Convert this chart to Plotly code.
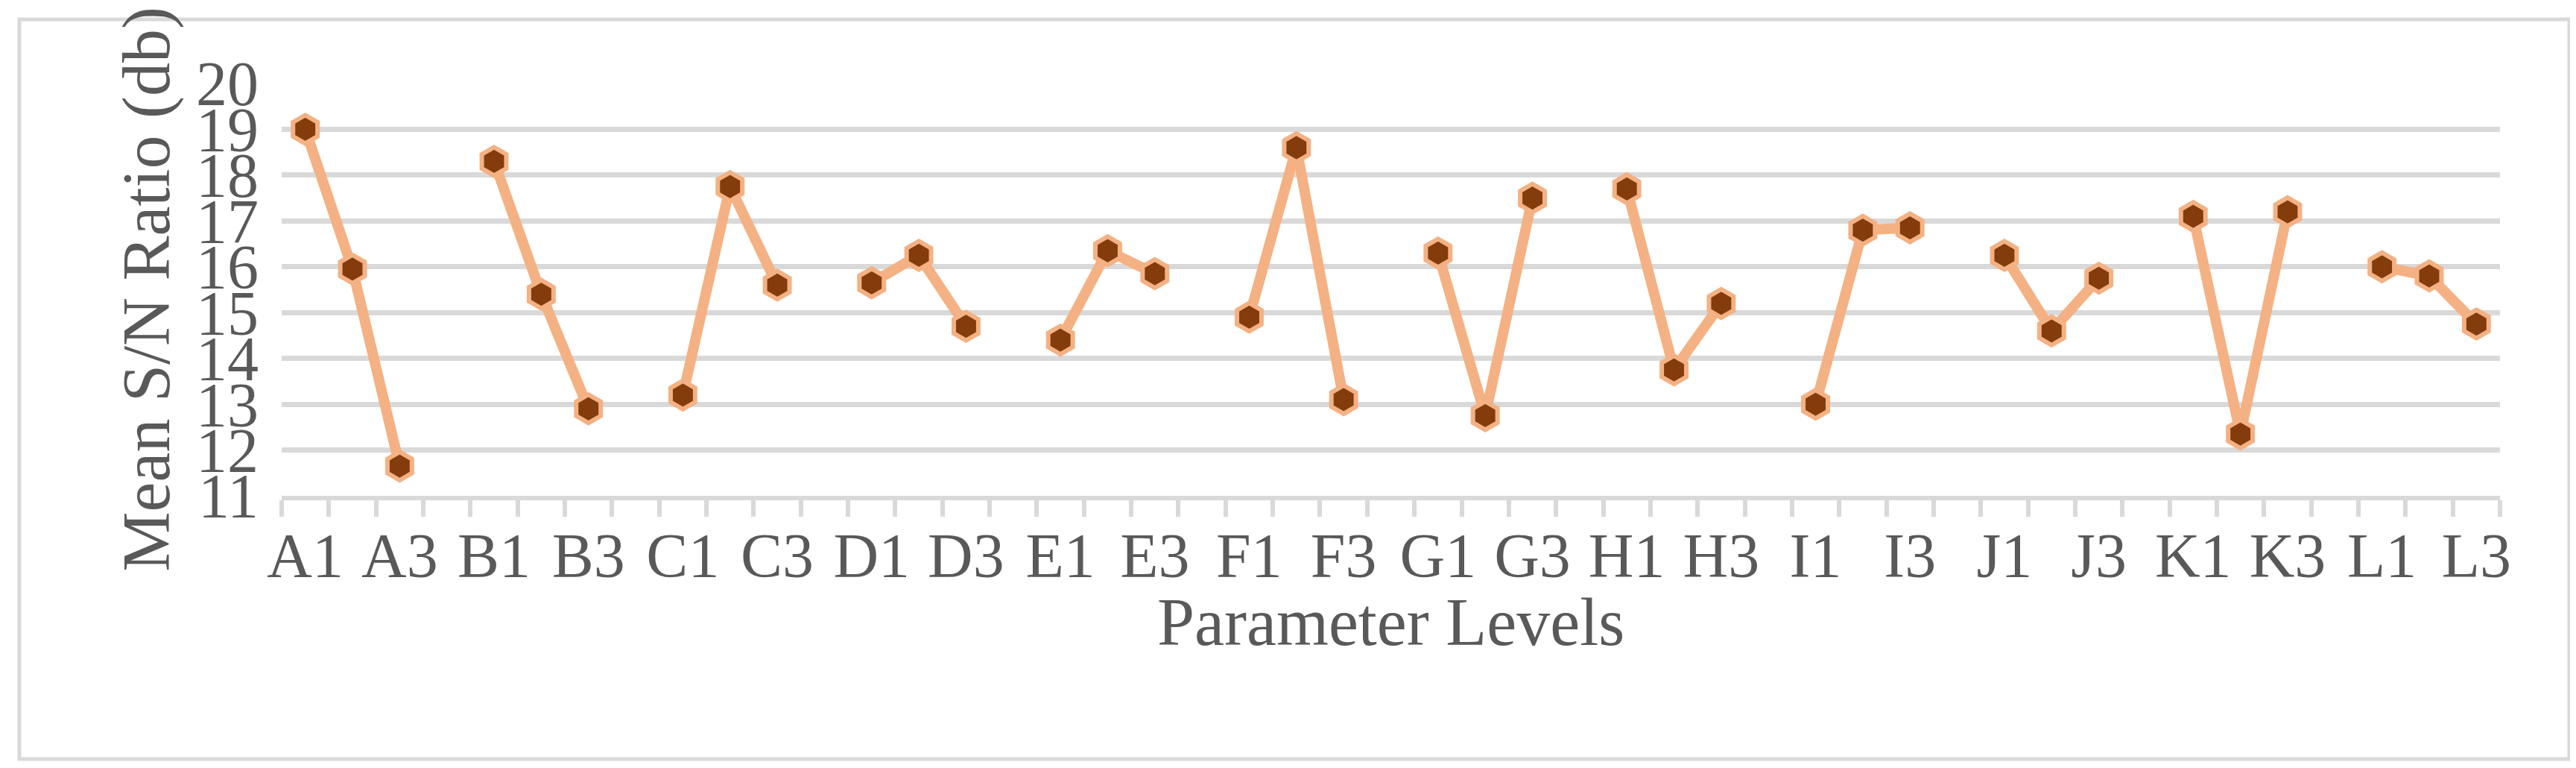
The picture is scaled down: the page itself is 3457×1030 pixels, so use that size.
import plotly.graph_objects as go

groups = ["A", "B", "C", "D", "E", "F", "G", "H", "I", "J", "K", "L"]
values = {
    "A": [19.0, 15.95, 11.65],
    "B": [18.3, 15.4, 12.9],
    "C": [13.2, 17.75, 15.6],
    "D": [15.65, 16.25, 14.7],
    "E": [14.4, 16.35, 15.85],
    "F": [14.9, 18.6, 13.1],
    "G": [16.3, 12.75, 17.5],
    "H": [17.7, 13.75, 15.2],
    "I": [13.0, 16.8, 16.85],
    "J": [16.25, 14.6, 15.75],
    "K": [17.1, 12.35, 17.2],
    "L": [16.0, 15.8, 14.75],
}

cats, ys = [], []
for gi, g in enumerate(groups):
    for lv in range(3):
        cats.append(f"{g}{lv+1}")
        ys.append(values[g][lv])
    if gi < len(groups) - 1:
        cats.append("")
        ys.append(None)
xs = list(range(len(cats)))
label_idx = [i for i in xs if i % 2 == 0]
label_txt = [cats[i] for i in label_idx]

TXT = "#595959"
FONT = "Liberation Serif"

fig = go.Figure(go.Scatter(
    x=xs, y=ys, mode="lines+markers", connectgaps=False,
    line=dict(color="#F4B183", width=14),
    marker=dict(symbol="hexagon", size=38, color="#843C0C",
                line=dict(color="#F4B183", width=6)),
    hoverinfo="y",
))

L, R, T, B = 370, 110, 104, 373
W, H = 3457, 1030
pw, ph = W - L - R, H - T - B

fig.update_layout(
    width=W, height=H, margin=dict(l=L, r=R, t=T, b=B),
    plot_bgcolor="white", paper_bgcolor="white", showlegend=False,
    font=dict(family=FONT, color=TXT, size=84),
    xaxis=dict(range=[-0.5, len(cats) - 0.5], tickmode="array",
               tickvals=label_idx, ticktext=label_txt, ticks="",
               showgrid=False, zeroline=False, showline=True,
               linecolor="#D9D9D9", linewidth=6, ticklabelstandoff=2,
               tickfont=dict(size=84, family=FONT, color=TXT),
               minor=dict(tick0=-0.5, dtick=1, ticks="outside", ticklen=22,
                          tickwidth=6, tickcolor="#D9D9D9", showgrid=False)),
    yaxis=dict(range=[11, 20], dtick=1, showgrid=True, gridcolor="#D9D9D9",
               gridwidth=7, zeroline=False, showline=False, ticks="",
               ticklabelstandoff=30,
               tickfont=dict(size=84, family=FONT, color=TXT)),
    shapes=[dict(type="rect", xref="paper", yref="paper",
                 x0=(18 - L) / pw, x1=(3440 - L) / pw,
                 y0=(H - B - 1010) / ph, y1=(H - B - 18) / ph,
                 line=dict(color="#D9D9D9", width=5))],
    annotations=[
        dict(text="Mean S/N Ratio (db)", xref="paper", yref="paper",
             x=(136 - L) / pw, y=0.5, textangle=-90, showarrow=False,
             font=dict(size=90, family=FONT, color=TXT)),
        dict(text="Parameter Levels", xref="paper", yref="paper",
             x=0.5, y=(H - B - 878) / ph, showarrow=False,
             font=dict(size=90, family=FONT, color=TXT)),
    ],
)
fig.write_html("out.html")
